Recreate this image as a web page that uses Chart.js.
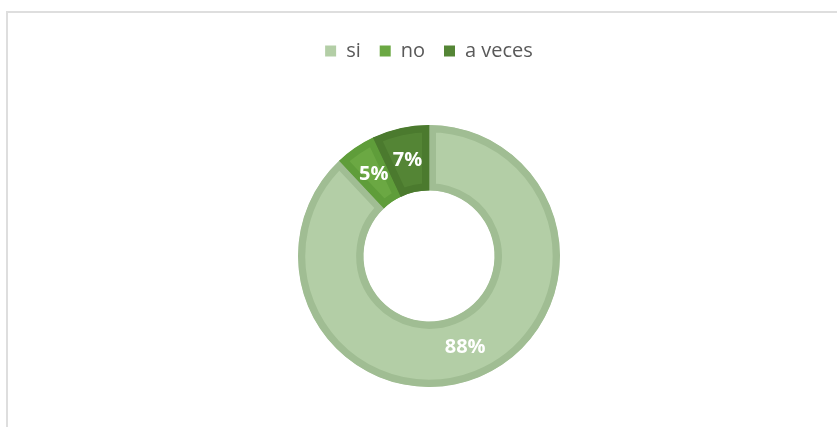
<!DOCTYPE html>
<html>
<head>
<meta charset="utf-8">
<script src="https://cdn.jsdelivr.net/npm/chart.js@4.4.1/dist/chart.umd.min.js"></script>
<style>
  html, body { margin: 0; padding: 0; background: #fff; overflow: hidden; }
  #frame { position: absolute; left: 6px; top: 11px; width: 900px; height: 500px;
           border: 2px solid #dedede; box-sizing: border-box; }
  #wrap { position: absolute; left: 0; top: 0; width: 837px; height: 427px; }
</style>
</head>
<body>
<div id="frame"></div>
<div id="wrap"><canvas id="chart" width="837" height="427"></canvas></div>
<script>
// datos
const categorias = ['si', 'no', 'a veces'];
const porcentajes = [88, 5, 7];
const colores = ['#b3cea6', '#6ba843', '#548535'];
const bordes = ['#a0bd93', '#5f9d3a', '#4b7a2e'];

Chart.defaults.font.family = '"Open Sans", "Noto Sans", sans-serif';
Chart.defaults.color = '#595959';

// etiquetas blancas sobre cada sector
const etiquetas = {
  id: 'etiquetas',
  afterDatasetsDraw(chart) {
    const { ctx } = chart;
    const meta = chart.getDatasetMeta(0);
    ctx.save();
    ctx.fillStyle = '#ffffff';
    ctx.font = 'bold 20px "Open Sans", sans-serif';
    ctx.textAlign = 'center';
    ctx.textBaseline = 'middle';
    meta.data.forEach((arc, i) => {
      const p = arc.tooltipPosition();
      ctx.fillText(porcentajes[i] + '%', p.x, p.y);
    });
    ctx.restore();
  }
};

// espacio extra debajo de la leyenda
const margenLeyenda = {
  id: 'margenLeyenda',
  beforeInit(chart) {
    const fit = chart.legend.fit;
    chart.legend.fit = function () {
      fit.bind(chart.legend)();
      this.height += 14;
    };
  }
};

new Chart(document.getElementById('chart'), {
  type: 'doughnut',
  data: {
    labels: categorias,
    datasets: [{
      data: porcentajes,
      backgroundColor: colores,
      borderColor: bordes,
      borderWidth: 7,
      borderAlign: 'inner'
    }]
  },
  options: {
    responsive: false,
    animation: false,
    radius: 131,
    cutout: '50%',
    layout: { padding: { top: 22, left: 21, right: 0, bottom: 0 } },
    plugins: {
      legend: {
        position: 'top',
        labels: {
          boxWidth: 11,
          boxHeight: 11,
          padding: 19,
          color: '#595959',
          font: { size: 20 },
          generateLabels(chart) {
            const items = Chart.overrides.doughnut.plugins.legend.labels.generateLabels(chart);
            items.forEach(it => { it.lineWidth = 0; it.strokeStyle = 'transparent'; });
            return items;
          }
        }
      },
      tooltip: { enabled: false }
    }
  },
  plugins: [etiquetas, margenLeyenda]
});
</script>
</body>
</html>
